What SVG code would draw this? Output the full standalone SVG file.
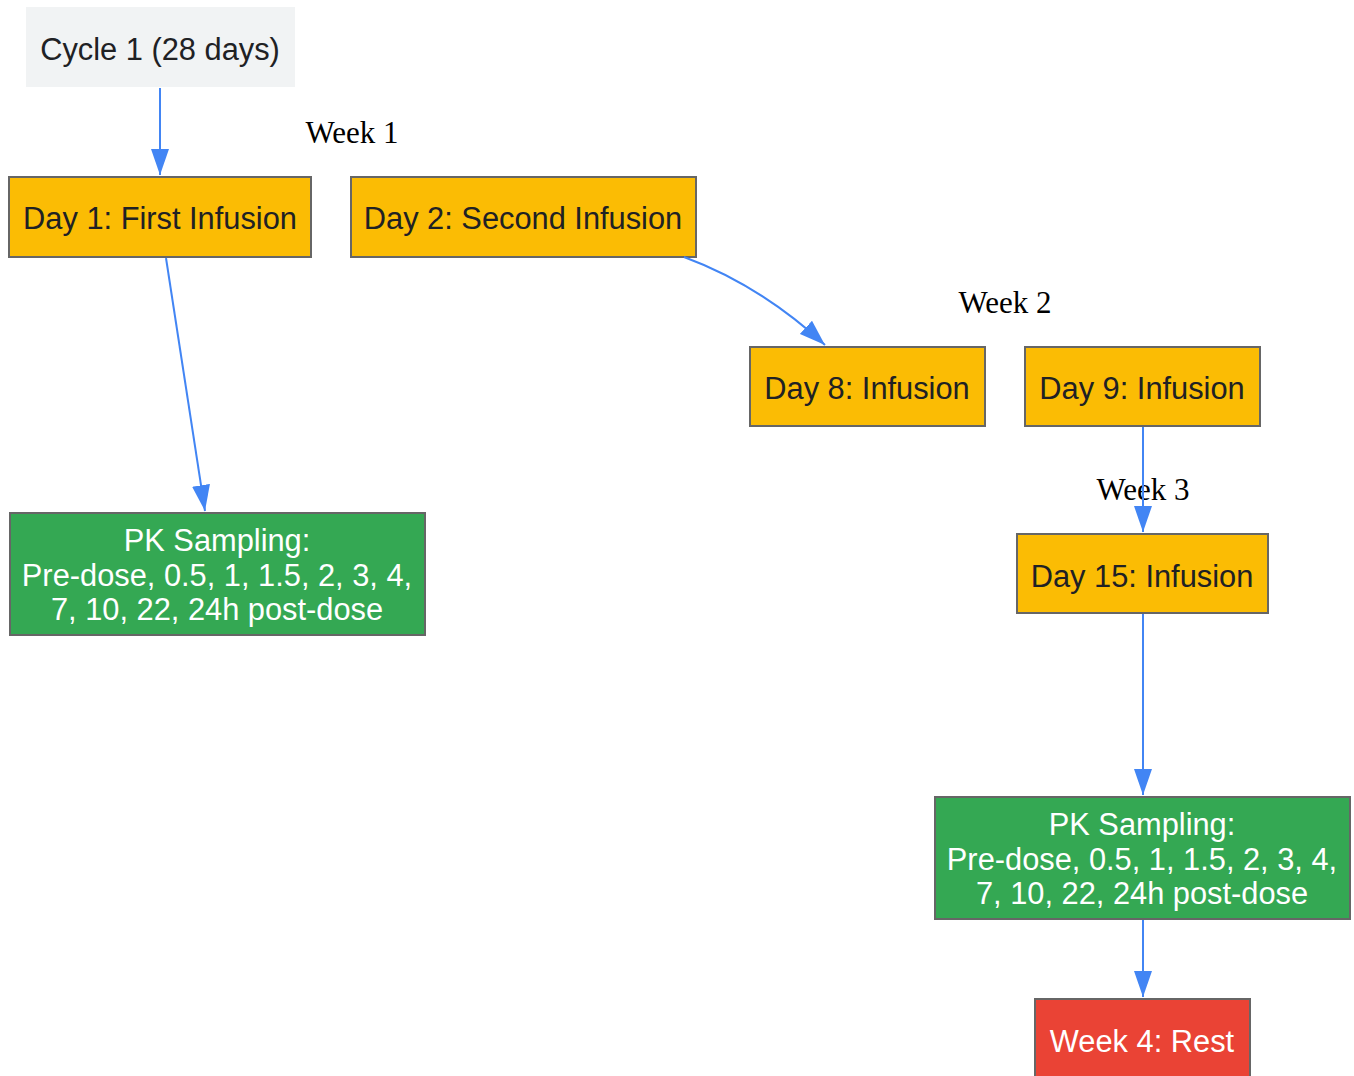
<svg xmlns="http://www.w3.org/2000/svg" width="1354" height="1076" viewBox="0 0 1354 1076">
<style>
.box{stroke:#666;stroke-width:2}
.y{fill:#fbbc04}
.g{fill:#34a853}
.r{fill:#ea4335}
.t{font-family:"Liberation Sans",Arial,sans-serif;font-size:30.8px;text-anchor:middle;fill:#202124}
.w{fill:#ffffff}
.lbl{font-family:"Liberation Serif","Times New Roman",serif;font-size:31px;text-anchor:middle;fill:#000}
.e{fill:none;stroke:#4285f4;stroke-width:2}
</style>
<defs>
<marker id="ah" markerUnits="userSpaceOnUse" markerWidth="26" markerHeight="18" refX="26" refY="9" orient="auto">
<path d="M0,0 L26,9 L0,18 z" fill="#4285f4"/>
</marker>
</defs>
<g id="cycle">
<rect x="26" y="7" width="269" height="80" fill="#f1f3f4"/>
<text class="t" x="160" y="60">Cycle 1 (28 days)</text>
</g>
<g id="labels">
<text class="lbl" x="352" y="143">Week 1</text>
<text class="lbl" x="1005" y="313">Week 2</text>
<text class="lbl" x="1143" y="500">Week 3</text>
</g>
<g id="day1">
<rect class="box y" x="9" y="177" width="302" height="80"/>
<text class="t" x="160" y="229">Day 1: First Infusion</text>
</g>
<g id="day2">
<rect class="box y" x="351" y="177" width="345" height="80"/>
<text class="t" x="523" y="229">Day 2: Second Infusion</text>
</g>
<g id="day8">
<rect class="box y" x="750" y="347" width="235" height="79"/>
<text class="t" x="867" y="399">Day 8: Infusion</text>
</g>
<g id="day9">
<rect class="box y" x="1025" y="347" width="235" height="79"/>
<text class="t" x="1142" y="399">Day 9: Infusion</text>
</g>
<g id="day15">
<rect class="box y" x="1017" y="534" width="251" height="79"/>
<text class="t" x="1142" y="587">Day 15: Infusion</text>
</g>
<g id="pk1">
<rect class="box g" x="10" y="513" width="415" height="122"/>
<text class="t w" x="217" y="551">PK Sampling:</text>
<text class="t w" x="217" y="586">Pre-dose, 0.5, 1, 1.5, 2, 3, 4,</text>
<text class="t w" x="217" y="620">7, 10, 22, 24h post-dose</text>
</g>
<g id="pk2">
<rect class="box g" x="935" y="797" width="415" height="122"/>
<text class="t w" x="1142" y="835">PK Sampling:</text>
<text class="t w" x="1142" y="870">Pre-dose, 0.5, 1, 1.5, 2, 3, 4,</text>
<text class="t w" x="1142" y="904">7, 10, 22, 24h post-dose</text>
</g>
<g id="week4">
<rect class="box r" x="1035" y="999" width="215" height="82"/>
<text class="t w" x="1142" y="1052">Week 4: Rest</text>
</g>
<g id="connectors">
<path class="e" d="M160,88 L160,175" marker-end="url(#ah)"/>
<path class="e" d="M166,258 L205,511" marker-end="url(#ah)"/>
<path class="e" d="M684,257 Q760,285 825,345" marker-end="url(#ah)"/>
<path class="e" d="M1143,427 L1143,532" marker-end="url(#ah)"/>
<path class="e" d="M1143,614 L1143,795" marker-end="url(#ah)"/>
<path class="e" d="M1143,920 L1143,997" marker-end="url(#ah)"/>
</g>
</svg>
